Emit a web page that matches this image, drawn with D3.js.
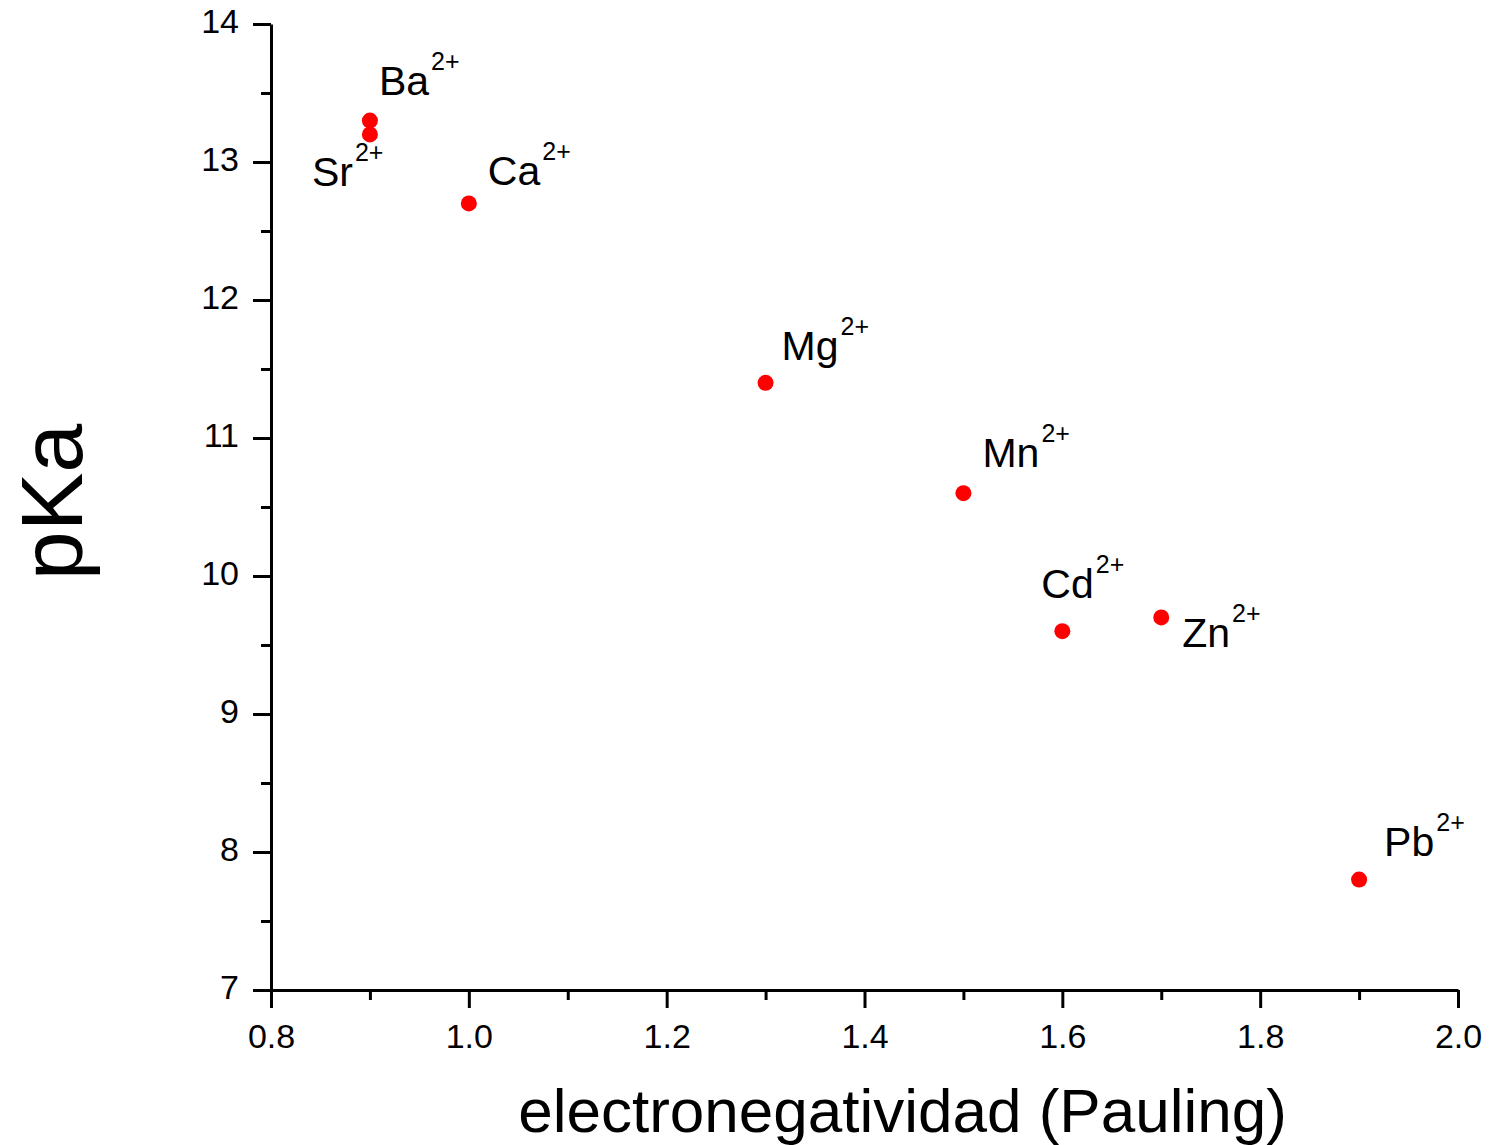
<!DOCTYPE html>
<meta charset="utf-8">
<html>
<head>
<style>
  body { margin: 0; background: #fff; }
  text { font-family: "Liberation Sans", Arial, sans-serif; fill: #000; }
</style>
</head>
<body>
<div id="my_dataviz"></div>

<script src="https://d3js.org/d3.v7.min.js"></script>
<script>

  // data
  var ions = ["Ba", "Sr", "Ca", "Mg", "Mn", "Cd", "Zn", "Pb"];
  var electroneg = [0.9, 0.9, 1.0, 1.3, 1.5, 1.6, 1.7, 1.9];
  var pKa = [13.3, 13.2, 12.7, 11.4, 10.6, 9.6, 9.7, 7.8];
  var charge = "2+";

  var xTicks = [0.8, 1.0, 1.2, 1.4, 1.6, 1.8, 2.0];
  var yTicks = [7, 8, 9, 10, 11, 12, 13, 14];

  // label placement relative to each point (pixels)
  var labelOffsets = [[9, -26], [-58, 52], [19, -18], [16, -23], [19, -26], [-21, -33], [21, 30], [25, -24]];

  var margin = {top: 24, right: 45, bottom: 155, left: 271},
      width = 1503 - margin.left - margin.right,
      height = 1145 - margin.top - margin.bottom;

  var svg = d3.select("#my_dataviz")
    .append("svg")
      .attr("width", width + margin.left + margin.right)
      .attr("height", height + margin.top + margin.bottom)
    .append("g")
      .attr("transform", "translate(" + margin.left + "," + margin.top + ")");

  var x = d3.scaleLinear().domain([0.8, 2.0]).range([0, width]);
  var y = d3.scaleLinear().domain([7, 14]).range([height, 0]);

  // minor ticks first
  var xMinor = d3.range(0.9, 2.0, 0.2);
  var yMinor = d3.range(7.5, 14, 1);

  svg.append("g")
    .attr("transform", "translate(0," + height + ")")
    .call(d3.axisBottom(x).tickValues(xMinor).tickSize(10).tickFormat(""))
    .call(function(g) { g.select(".domain").remove(); });

  svg.append("g")
    .call(d3.axisLeft(y).tickValues(yMinor).tickSize(10).tickFormat(""))
    .call(function(g) { g.select(".domain").remove(); });

  // major axes
  var xAxis = svg.append("g")
    .attr("transform", "translate(0," + height + ")")
    .call(d3.axisBottom(x).tickValues(xTicks).tickSize(18).tickSizeOuter(0).tickPadding(16)
      .tickFormat(d3.format(".1f")));

  var yAxis = svg.append("g")
    .call(d3.axisLeft(y).tickValues(yTicks).tickSize(18).tickSizeOuter(0).tickPadding(14)
      .tickFormat(d3.format("d")));

  svg.selectAll(".tick line, .domain")
    .attr("stroke", "#000")
    .attr("stroke-width", 3);

  xAxis.selectAll("text").style("font-size", "34px").attr("dy", "0.71em");
  yAxis.selectAll("text").style("font-size", "34px").attr("dy", "0.25em");
  svg.selectAll(".tick text").attr("fill", "#000").style("font-family", "'Liberation Sans', Arial, sans-serif");

  // axis titles
  svg.append("text")
    .attr("x", (515 + 1290) / 2 - margin.left)
    .attr("y", 1132 - margin.top)
    .attr("text-anchor", "middle")
    .style("font-size", "62px")
    .text("electronegatividad (Pauling)");

  svg.append("text")
    .attr("transform", "translate(" + (82 - margin.left) + "," + (502 - margin.top) + ") rotate(-90)")
    .attr("text-anchor", "middle")
    .style("font-size", "88px")
    .text("pKa");

  // points
  var pts = ions.map(function(d, i) { return {ion: d, x: electroneg[i], y: pKa[i], off: labelOffsets[i]}; });

  svg.append("g")
    .selectAll("circle")
    .data(pts)
    .enter()
    .append("circle")
      .attr("cx", function(d) { return x(d.x); })
      .attr("cy", function(d) { return y(d.y); })
      .attr("r", 8)
      .attr("fill", "#ff0000");

  // labels with superscript charge
  var lab = svg.append("g")
    .selectAll("text")
    .data(pts)
    .enter()
    .append("text")
      .attr("x", function(d) { return x(d.x) + d.off[0]; })
      .attr("y", function(d) { return y(d.y) + d.off[1]; })
      .style("font-size", "41px");

  lab.append("tspan").text(function(d) { return d.ion; });
  lab.append("tspan")
    .attr("dx", 2)
    .attr("dy", -25)
    .style("font-size", "25px")
    .text(charge);

</script>
</body>
</html>
